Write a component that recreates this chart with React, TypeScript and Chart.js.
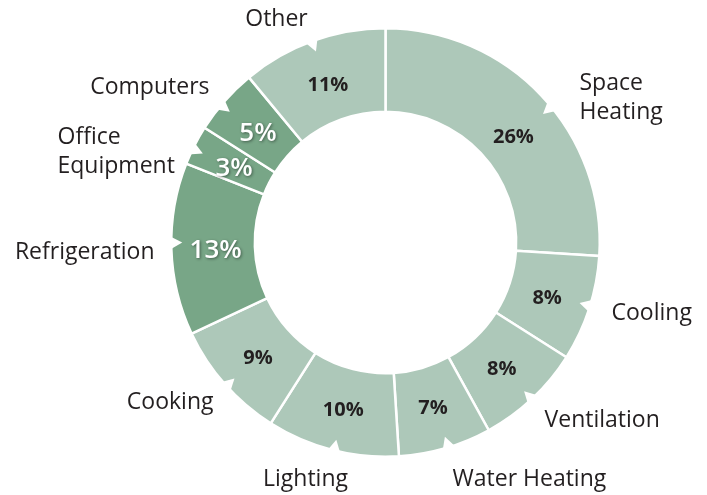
import React, { useEffect, useRef } from "react";
import { Chart, registerables } from "chart.js";

Chart.register(...registerables);

const categories = [
  "Space Heating",
  "Cooling",
  "Ventilation",
  "Water Heating",
  "Lighting",
  "Cooking",
  "Refrigeration",
  "Office Equipment",
  "Computers",
  "Other",
];
const shares = [26, 8, 8, 7, 10, 9, 13, 3, 5, 11];
const highlightedCategories = ["Refrigeration", "Office Equipment", "Computers"];

const LIGHT = "#adc8b9";
const DARK = "#78a687";
const TEXT = "#231f20";
const FONT = "'Open Sans', 'Noto Sans', sans-serif";

// label layout relative to the doughnut centre (px)
const labelLayout: Record<string, { lines: string[]; dx: number; dy: number; align: CanvasTextAlign }> = {
  "Space Heating": { lines: ["Space", "Heating"], dx: 194, dy: -159, align: "left" },
  Cooling: { lines: ["Cooling"], dx: 226, dy: 71, align: "left" },
  Ventilation: { lines: ["Ventilation"], dx: 159, dy: 178, align: "left" },
  "Water Heating": { lines: ["Water Heating"], dx: 67, dy: 237, align: "left" },
  Lighting: { lines: ["Lighting"], dx: -80, dy: 237, align: "center" },
  Cooking: { lines: ["Cooking"], dx: -172, dy: 160, align: "right" },
  Refrigeration: { lines: ["Refrigeration"], dx: -231, dy: 10, align: "right" },
  "Office Equipment": { lines: ["Office", "Equipment"], dx: -328, dy: -105, align: "left" },
  Computers: { lines: ["Computers"], dx: -176, dy: -155, align: "right" },
  Other: { lines: ["Other"], dx: -109, dy: -223, align: "center" },
};

// small nudges of the percentage labels (px)
const pctNudge: Record<string, [number, number]> = {
  "Space Heating": [4, 8],
};

// angle (deg, clockwise from top) of the small pointer notch on the outer edge
const notchAngles = [48.8, 105.3, 135, 161, 192, 226, 268, 294, 308, 338];

const deg = Math.PI / 180;

const notchPlugin = {
  id: "notches",
  afterDatasetsDraw(chart: any) {
    const ctx: CanvasRenderingContext2D = chart.ctx;
    const arc = chart.getDatasetMeta(0).data[0];
    if (!arc) return;
    const { x, y, outerRadius } = arc.getProps(["x", "y", "outerRadius"], true);
    const pt = (a: number, r: number): [number, number] => {
      const t = (a - 90) * deg;
      return [x + Math.cos(t) * r, y + Math.sin(t) * r];
    };
    ctx.save();
    ctx.fillStyle = "#ffffff";
    notchAngles.forEach((a) => {
      const A = pt(a, outerRadius + 2);
      const B = pt(a + 2, outerRadius - 11);
      const C = pt(a + 3.7, outerRadius + 2);
      ctx.beginPath();
      ctx.moveTo(A[0], A[1]);
      ctx.lineTo(B[0], B[1]);
      ctx.lineTo(C[0], C[1]);
      ctx.closePath();
      ctx.fill();
    });
    ctx.restore();
  },
};

const labelPlugin = {
  id: "sliceLabels",
  afterDatasetsDraw(chart: any) {
    const ctx: CanvasRenderingContext2D = chart.ctx;
    const meta = chart.getDatasetMeta(0);
    ctx.save();
    meta.data.forEach((arc: any, i: number) => {
      const { x, y, startAngle, endAngle, innerRadius, outerRadius } = arc.getProps(
        ["x", "y", "startAngle", "endAngle", "innerRadius", "outerRadius"],
        true
      );
      const cat = categories[i];
      const hl = highlightedCategories.includes(cat);
      const mid = (startAngle + endAngle) / 2;
      const r = innerRadius + (outerRadius - innerRadius) * 0.47;
      const nudge = pctNudge[cat] || [0, 0];
      const px = x + Math.cos(mid) * r + nudge[0];
      const py = y + Math.sin(mid) * r + 3 + nudge[1];
      ctx.textAlign = "center";
      ctx.textBaseline = "middle";
      if (hl) {
        ctx.font = `600 26px ${FONT}`;
        ctx.fillStyle = "#ffffff";
        ctx.shadowColor = "rgba(0,0,0,0.45)";
        ctx.shadowBlur = 3;
        ctx.shadowOffsetX = 1;
        ctx.shadowOffsetY = 1;
      } else {
        ctx.font = `bold 20px ${FONT}`;
        ctx.fillStyle = TEXT;
      }
      ctx.fillText(shares[i] + "%", px, py);
      ctx.shadowColor = "transparent";
      ctx.shadowBlur = 0;
      ctx.shadowOffsetX = 0;
      ctx.shadowOffsetY = 0;
      const lay = labelLayout[cat];
      ctx.font = `23px ${FONT}`;
      ctx.fillStyle = TEXT;
      ctx.textAlign = lay.align;
      lay.lines.forEach((line, k) => {
        ctx.fillText(line, x + lay.dx, y + lay.dy + k * 29);
      });
    });
    ctx.restore();
  },
};

export default function App() {
  const canvasRef = useRef<HTMLCanvasElement | null>(null);

  useEffect(() => {
    if (!canvasRef.current) return;
    const chart = new Chart(canvasRef.current, {
      type: "doughnut",
      data: {
        labels: categories,
        datasets: [
          {
            data: shares,
            backgroundColor: categories.map((c) => (highlightedCategories.includes(c) ? DARK : LIGHT)),
            borderColor: "#ffffff",
            borderWidth: 2.5,
          },
        ],
      },
      options: {
        responsive: false,
        animation: false,
        cutout: "61%",
        layout: { padding: { left: 170, right: 106, top: 27, bottom: 37 } },
        plugins: {
          legend: { display: false },
          tooltip: { enabled: false },
        },
      },
      plugins: [notchPlugin, labelPlugin],
    });
    return () => chart.destroy();
  }, []);

  return (
    <div style={{ position: "absolute", left: 0, top: 0, width: 707, height: 495, background: "#fff" }}>
      <canvas ref={canvasRef} width={707} height={495} />
    </div>
  );
}
